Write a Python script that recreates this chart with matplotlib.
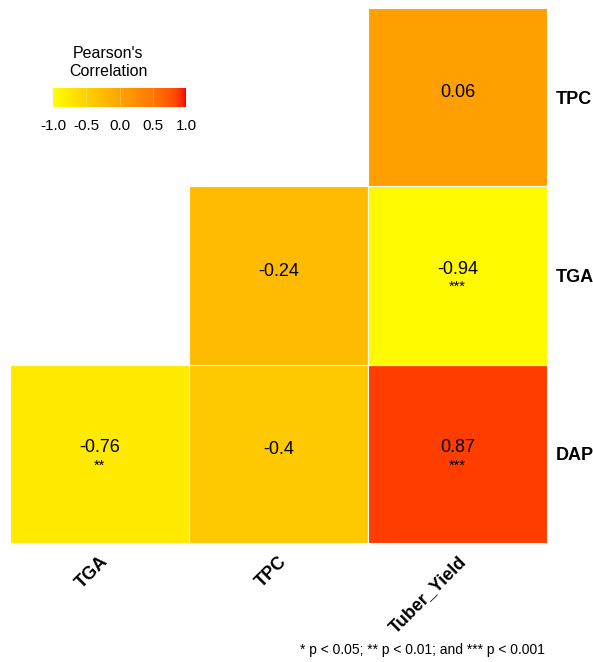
import matplotlib.pyplot as plt
import numpy as np
from matplotlib.colors import LinearSegmentedColormap

plt.rcParams['font.family'] = ['Liberation Sans', 'DejaVu Sans']

cols = ['TGA', 'TPC', 'Tuber_Yield']
rows = ['DAP', 'TGA', 'TPC']  # bottom to top
# correlation values (nan = not shown), indexed [row][col]
r_vals = [[-0.76, -0.40, 0.87],
          [np.nan, -0.24, -0.94],
          [np.nan, np.nan, 0.06]]
r_labels = [['-0.76', '-0.4', '0.87'],
            ['', '-0.24', '-0.94'],
            ['', '', '0.06']]
stars = [['**', '', '***'],
         ['', '', '***'],
         ['', '', '']]

cmap = LinearSegmentedColormap.from_list(
    'yor', [(0, '#FFFF00'), (0.5, '#FFA500'), (0.75, '#FF7800'),
            (0.9, '#FF5200'), (0.97, '#FF2A00'), (1, '#FF0000')])

fig = plt.figure(figsize=(5.93, 6.62), dpi=100)
ax = fig.add_axes([10/593, 1-543/662, 537/593, 535/662])

for i, row in enumerate(rows):
    for j, col in enumerate(cols):
        v = r_vals[i][j]
        if np.isnan(v):
            continue
        ax.add_patch(plt.Rectangle((j, i), 1, 1, facecolor=cmap((v + 1) / 2),
                                   edgecolor='white', linewidth=0.8))
        if stars[i][j]:
            ax.text(j + 0.5, i + 0.535, r_labels[i][j], ha='center', va='center', fontsize=13)
            ax.text(j + 0.5, i + 0.435, stars[i][j], ha='center', va='center', fontsize=10.5)
        else:
            ax.text(j + 0.5, i + 0.525, r_labels[i][j], ha='center', va='center', fontsize=13)

ax.set_xlim(0, 3)
ax.set_ylim(0, 3)
ax.set_xticks(np.arange(3) + 0.5)
ax.set_xticklabels(cols, rotation=45, ha='right', rotation_mode='anchor',
                   fontsize=13, fontweight='bold')
ax.set_yticks(np.arange(3) + 0.5)
ax.set_yticklabels(rows, fontsize=13, fontweight='bold')
ax.yaxis.tick_right()
ax.tick_params(length=0, pad=6)
ax.tick_params(axis='x', pad=7)
for s in ax.spines.values():
    s.set_visible(False)

# legend colorbar
cax = fig.add_axes([53/593, 1-107/662, 133/593, 19/662])
grad = np.linspace(-1, 1, 256).reshape(1, -1)
cax.imshow(grad, aspect='auto', cmap=cmap, vmin=-1, vmax=1, extent=[-1, 1, 0, 1])
for t in [-0.5, 0, 0.5]:
    cax.axvline(t, color='white', lw=0.5, alpha=0.35)
cax.set_yticks([])
cax.set_xticks([-1, -0.5, 0, 0.5, 1])
cax.set_xticklabels(['-1.0', '-0.5', '0.0', '0.5', '1.0'], fontsize=11)
cax.tick_params(length=0, pad=9)
for s in cax.spines.values():
    s.set_visible(False)
fig.text(108/593, 1-62/662, "Pearson's\nCorrelation", ha='center', va='center',
         fontsize=11.5, linespacing=1.25)

fig.text(545/593, 1-650/662, '* p < 0.05; ** p < 0.01; and *** p < 0.001',
         ha='right', va='center', fontsize=10)

fig.savefig('out.png', dpi=100, facecolor='white')
